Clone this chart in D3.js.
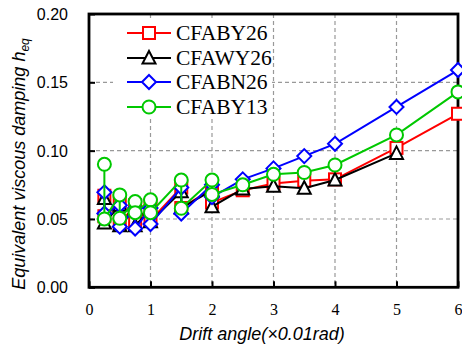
<!DOCTYPE html>
<html><head><meta charset="utf-8">
<script src="https://cdn.jsdelivr.net/npm/d3@7/dist/d3.min.js"></script>
<style>body{margin:0;background:#fff}svg{display:block}</style>
</head><body>
<svg id="c" width="462" height="347"></svg>
<script>
const xTicks = [0,1,2,3,4,5,6];
const yTicks = [0,0.05,0.10,0.15,0.20];
const driftPair = [0.25,0.25,0.5,0.5,0.75,0.75,1,1,1.5,1.5,2,2,2.5,3,3.5,4,5,6];
const driftBlack = [0.25,0.25,0.5,0.5,0.75,0.75,1,1,1.5,1.5,2,2,2.5,3,3.5,4,5];
const seriesNames = ["CFABY26","CFAWY26","CFABN26","CFABY13"];
const seriesColors = ["#ff0000","#000000","#0000ff","#00c800"];
const seriesMarkers = ["square","triangle","diamond","circle"];
const hCFABY26 = [0.067,0.052,0.062,0.047,0.060,0.047,0.060,0.049,0.073,0.058,0.072,0.062,0.071,0.076,0.078,0.079,0.102,0.127];
const hCFAWY26 = [0.065,0.047,0.060,0.045,0.058,0.045,0.057,0.048,0.070,0.058,0.071,0.059,0.072,0.074,0.0725,0.0785,0.098];
const hCFABN26 = [0.0695,0.054,0.060,0.0444,0.058,0.043,0.058,0.0463,0.073,0.054,0.075,0.066,0.079,0.087,0.096,0.105,0.132,0.159];
const hCFABY13 = [0.090,0.050,0.0676,0.0505,0.0627,0.0546,0.064,0.0546,0.0785,0.0578,0.0785,0.068,0.075,0.0827,0.084,0.0895,0.1115,0.143];

const series = [
  {name:seriesNames[0], color:seriesColors[0], marker:seriesMarkers[0], x:driftPair, y:hCFABY26},
  {name:seriesNames[1], color:seriesColors[1], marker:seriesMarkers[1], x:driftBlack, y:hCFAWY26},
  {name:seriesNames[2], color:seriesColors[2], marker:seriesMarkers[2], x:driftPair, y:hCFABN26},
  {name:seriesNames[3], color:seriesColors[3], marker:seriesMarkers[3], x:driftPair, y:hCFABY13}
];

const svg = d3.select("#c");
const L=89, R=458, T=14, B=287.3;
const x = d3.scaleLinear().domain([0,6]).range([L,R]);
const y = d3.scaleLinear().domain([0,0.2]).range([B,T]);

// gridlines
const g = svg.append("g");
g.selectAll("line.vx").data(xTicks.slice(1,-1)).join("line")
  .attr("x1",d=>x(d)).attr("x2",d=>x(d)).attr("y1",T).attr("y2",B)
  .attr("stroke","#999").attr("stroke-width",1.2).attr("stroke-dasharray","4,3");
g.selectAll("line.hy").data(yTicks.slice(1,-1)).join("line")
  .attr("y1",d=>y(d)).attr("y2",d=>y(d)).attr("x1",L).attr("x2",R)
  .attr("stroke","#999").attr("stroke-width",1.2).attr("stroke-dasharray","4,3");

// legend background
svg.append("rect").attr("x",113).attr("y",18).attr("width",159).attr("height",101).attr("fill","#fff");

// axes with inward ticks
const xAxis = d3.axisBottom(x).tickValues(xTicks).tickSizeInner(-6).tickSizeOuter(0).tickFormat(d3.format("d"));
const ax = svg.append("g").attr("transform",`translate(0,${B})`).call(xAxis);
ax.select(".domain").remove();
ax.selectAll("line").attr("stroke","#000").attr("stroke-width",2);
ax.selectAll("text").attr("font-family","'Liberation Serif','Times New Roman',serif").attr("font-size",16).attr("fill","#000").attr("dy",null).attr("y",28);

const yAxis = d3.axisLeft(y).tickValues(yTicks).tickSizeInner(-6).tickSizeOuter(0).tickFormat(d3.format(".2f"));
const ay = svg.append("g").attr("transform",`translate(${L},0)`).call(yAxis);
ay.select(".domain").remove();
ay.selectAll("line").attr("stroke","#000").attr("stroke-width",2);
ay.selectAll("text").attr("font-family","'Liberation Sans',Arial,sans-serif").attr("font-size",16).attr("fill","#000").attr("x",-21).attr("dy","0.35em");

// frame
svg.append("rect").attr("x",L).attr("y",T).attr("width",R-L).attr("height",B-T)
  .attr("fill","none").attr("stroke","#000").attr("stroke-width",2.8);

function drawMarker(sel, type, color, cx, cy){
  if(type==="square"){
    sel.append("rect").attr("x",cx-6).attr("y",cy-6).attr("width",12).attr("height",12)
      .attr("fill","#fff").attr("stroke",color).attr("stroke-width",2);
  } else if(type==="triangle"){
    sel.append("path").attr("d",`M${cx},${cy-7}L${cx+6.5},${cy+5.5}L${cx-6.5},${cy+5.5}Z`)
      .attr("fill","#fff").attr("stroke",color).attr("stroke-width",2);
  } else if(type==="diamond"){
    sel.append("path").attr("d",`M${cx},${cy-7}L${cx+7},${cy}L${cx},${cy+7}L${cx-7},${cy}Z`)
      .attr("fill","#fff").attr("stroke",color).attr("stroke-width",2);
  } else {
    sel.append("circle").attr("cx",cx).attr("cy",cy).attr("r",6.5)
      .attr("fill","#fff").attr("stroke",color).attr("stroke-width",2);
  }
}

const line = d3.line().x(d=>x(d[0])).y(d=>y(d[1]));
series.forEach(s=>{
  const pts = s.x.map((v,i)=>[v,s.y[i]]);
  const gs = svg.append("g");
  gs.append("path").attr("d",line(pts)).attr("fill","none").attr("stroke",s.color).attr("stroke-width",2);
  pts.forEach(p=>drawMarker(gs, s.marker, s.color, x(p[0]), y(p[1])));
});

// legend
const legY = [33,58,82,107];
series.forEach((s,i)=>{
  const gl = svg.append("g");
  gl.append("line").attr("x1",127).attr("x2",171).attr("y1",legY[i]).attr("y2",legY[i]).attr("stroke",s.color).attr("stroke-width",2);
  drawMarker(gl, s.marker, s.color, 149, legY[i]);
  gl.append("text").attr("x",176).attr("y",legY[i]+7).attr("font-family","'Liberation Serif','Times New Roman',serif")
    .attr("font-size",21.5).attr("fill","#000").text(s.name);
});

// axis titles
svg.append("text").attr("x",262).attr("y",340).attr("text-anchor","middle")
  .attr("font-family","'Liberation Sans',Arial,sans-serif").attr("font-style","italic").attr("font-size",18)
  .text("Drift angle(×0.01rad)");
const yt = svg.append("text").attr("transform","translate(25,164) rotate(-90)").attr("text-anchor","middle")
  .attr("font-family","'Liberation Sans',Arial,sans-serif").attr("font-style","italic").attr("font-size",18);
yt.append("tspan").text("Equivalent viscous damping  h");
yt.append("tspan").attr("font-size",12).attr("dy",4).text("eq");
</script>
</body></html>
